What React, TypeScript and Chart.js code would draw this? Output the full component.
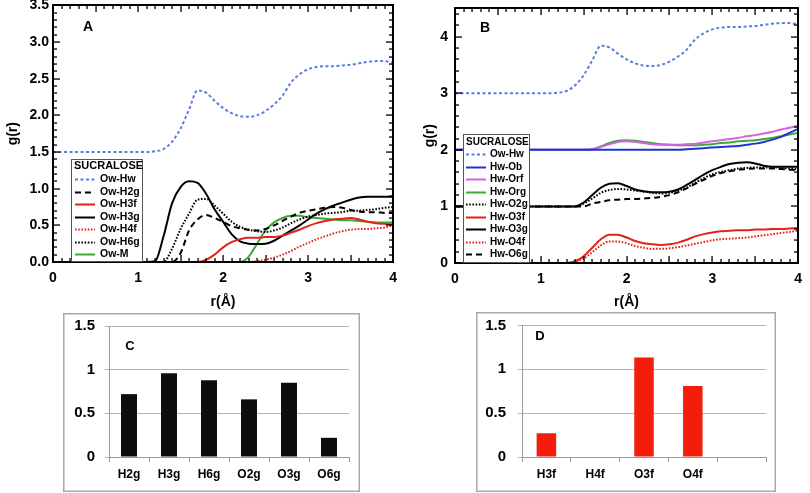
import { useEffect, useRef } from "react";
import { Chart, registerables } from "chart.js";
Chart.register(...registerables);

// r grid (Å)
const R = [0, 0.5, 1.0, 1.1, 1.2, 1.3, 1.4, 1.5, 1.6, 1.7, 1.8, 1.9, 2.0, 2.1, 2.2, 2.3, 2.4, 2.5, 2.6, 2.7, 2.8, 2.9, 3.0, 3.1, 3.2, 3.3, 3.4, 3.5, 3.6, 3.7, 3.8, 3.9, 4.0];

// Panel A (Ow-Hw shown shifted by OFFSET_A_OWHW)
const owHw = [0, 0, 0, 0, 0.01, 0.04, 0.14, 0.32, 0.58, 0.84, 0.81, 0.7, 0.6, 0.53, 0.49, 0.48, 0.5, 0.56, 0.65, 0.77, 0.95, 1.06, 1.13, 1.16, 1.17, 1.17, 1.18, 1.19, 1.21, 1.23, 1.24, 1.24, 1.22];
const owH2g = [0, 0, 0, 0, 0, 0, 0, 0.12, 0.43, 0.58, 0.64, 0.6, 0.55, 0.49, 0.46, 0.44, 0.43, 0.45, 0.5, 0.56, 0.62, 0.67, 0.7, 0.72, 0.74, 0.75, 0.74, 0.71, 0.69, 0.68, 0.68, 0.67, 0.67];
const owH3f = [0, 0, 0, 0, 0, 0, 0, 0, 0, 0, 0.03, 0.1, 0.2, 0.27, 0.31, 0.33, 0.33, 0.34, 0.34, 0.36, 0.4, 0.44, 0.49, 0.53, 0.56, 0.58, 0.59, 0.6, 0.58, 0.55, 0.53, 0.52, 0.51];
const owH3g = [0, 0, 0, 0, 0.01, 0.35, 0.8, 1.02, 1.1, 1.08, 0.93, 0.72, 0.55, 0.38, 0.28, 0.25, 0.245, 0.25, 0.29, 0.36, 0.43, 0.5, 0.58, 0.66, 0.72, 0.77, 0.81, 0.85, 0.88, 0.89, 0.89, 0.89, 0.89];
const owH4f = [0, 0, 0, 0, 0, 0, 0, 0, 0, 0, 0, 0, 0, 0, 0, 0, 0.01, 0.03, 0.06, 0.1, 0.15, 0.21, 0.26, 0.31, 0.35, 0.39, 0.42, 0.44, 0.45, 0.45, 0.46, 0.47, 0.5];
const owH6g = [0, 0, 0, 0, 0, 0, 0.18, 0.45, 0.66, 0.85, 0.86, 0.77, 0.66, 0.55, 0.48, 0.44, 0.42, 0.41, 0.43, 0.47, 0.53, 0.58, 0.62, 0.64, 0.66, 0.67, 0.68, 0.7, 0.7, 0.71, 0.72, 0.74, 0.75];
const owM = [0, 0, 0, 0, 0, 0, 0, 0, 0, 0, 0, 0, 0, 0, 0, 0.07, 0.25, 0.43, 0.54, 0.6, 0.63, 0.63, 0.61, 0.6, 0.59, 0.58, 0.57, 0.57, 0.56, 0.55, 0.54, 0.54, 0.54];

// Panel B (shifted groups)
const hwOb = [0, 0, 0, 0, 0, 0, 0, 0, 0, 0, 0, 0, 0, 0, 0, 0, 0, 0, 0, 0.01, 0.02, 0.03, 0.04, 0.05, 0.06, 0.07, 0.09, 0.11, 0.14, 0.18, 0.23, 0.3, 0.37];
const hwOrf = [0, 0, 0, 0, 0, 0, 0, 0, 0.01, 0.05, 0.1, 0.14, 0.15, 0.14, 0.12, 0.1, 0.09, 0.09, 0.09, 0.1, 0.11, 0.13, 0.15, 0.17, 0.19, 0.21, 0.24, 0.26, 0.29, 0.32, 0.36, 0.39, 0.43];
const hwOrg = [0, 0, 0, 0, 0, 0, 0, 0, 0.01, 0.06, 0.12, 0.16, 0.17, 0.16, 0.14, 0.12, 0.1, 0.09, 0.08, 0.08, 0.08, 0.09, 0.1, 0.12, 0.13, 0.15, 0.16, 0.17, 0.19, 0.21, 0.24, 0.27, 0.3];
const hwO2g = [0, 0, 0, 0, 0, 0, 0, 0.05, 0.14, 0.24, 0.29, 0.31, 0.3, 0.28, 0.26, 0.24, 0.23, 0.24, 0.28, 0.33, 0.42, 0.5, 0.57, 0.61, 0.64, 0.67, 0.68, 0.69, 0.69, 0.69, 0.68, 0.67, 0.66];
const hwO3f = [0, 0, 0, 0, 0, 0, 0.03, 0.12, 0.27, 0.42, 0.5, 0.5, 0.45, 0.39, 0.35, 0.33, 0.32, 0.33, 0.36, 0.41, 0.47, 0.51, 0.54, 0.56, 0.57, 0.58, 0.58, 0.59, 0.59, 0.6, 0.6, 0.61, 0.62];
const hwO3g = [0, 0, 0, 0, 0, 0, 0, 0.07, 0.2, 0.33, 0.4, 0.41, 0.36, 0.3, 0.27, 0.25, 0.25, 0.26, 0.3, 0.38, 0.47, 0.56, 0.64, 0.7, 0.75, 0.77, 0.78, 0.76, 0.72, 0.7, 0.7, 0.7, 0.7];
const hwO4f = [0, 0, 0, 0, 0, 0, 0.02, 0.08, 0.19, 0.31, 0.38, 0.38, 0.35, 0.3, 0.27, 0.25, 0.25, 0.26, 0.28, 0.31, 0.34, 0.37, 0.4, 0.42, 0.43, 0.44, 0.45, 0.47, 0.49, 0.51, 0.53, 0.55, 0.57];
const hwO6g = [0, 0, 0, 0, 0, 0, 0, 0, 0.05, 0.08, 0.11, 0.12, 0.13, 0.13, 0.14, 0.15, 0.17, 0.2, 0.25, 0.32, 0.4, 0.47, 0.54, 0.59, 0.62, 0.65, 0.66, 0.67, 0.67, 0.67, 0.66, 0.65, 0.64];

const OFFSET_A_OWHW = 1.5;
const OFFSET_B_OWHW = 3;
const OFFSET_B_OR = 2;
const OFFSET_B_OG = 1;

// Frame tick values (ticks inside the plot frame)
const xTickVals = [0, 0.1, 0.2, 0.3, 0.4, 0.5, 0.6, 0.7, 0.8, 0.9, 1, 1.1, 1.2, 1.3, 1.4, 1.5, 1.6, 1.7, 1.8, 1.9, 2, 2.1, 2.2, 2.3, 2.4, 2.5, 2.6, 2.7, 2.8, 2.9, 3, 3.1, 3.2, 3.3, 3.4, 3.5, 3.6, 3.7, 3.8, 3.9, 4];
const yTickValsA = [0, 0.1, 0.2, 0.3, 0.4, 0.5, 0.6, 0.7, 0.8, 0.9, 1, 1.1, 1.2, 1.3, 1.4, 1.5, 1.6, 1.7, 1.8, 1.9, 2, 2.1, 2.2, 2.3, 2.4, 2.5, 2.6, 2.7, 2.8, 2.9, 3, 3.1, 3.2, 3.3, 3.4, 3.5];
const yTickValsB = [0, 0.2, 0.4, 0.6, 0.8, 1, 1.2, 1.4, 1.6, 1.8, 2, 2.2, 2.4, 2.6, 2.8, 3, 3.2, 3.4, 3.6, 3.8, 4, 4.2, 4.4];

// Panel C
const catsC = ["H2g", "H3g", "H6g", "O2g", "O3g", "O6g"];
const valsC = [0.72, 0.96, 0.88, 0.66, 0.85, 0.22];
// Panel D
const catsD = ["H3f", "H4f", "O3f", "O4f", ""];
const valsD = [0.27, 0, 1.135, 0.81, null];

const FONT = "'Liberation Sans', Arial, Helvetica, sans-serif";
const BLUE_DOT = "#5a7de0";
const RED = "#e6201b";
const GREEN = "#3aa936";
const BLUE = "#1f35d0";
const MAGENTA = "#d264e2";

const pts = (vals: number[], off = 0) => R.map((r, i) => ({ x: r, y: vals[i] + off }));

const line = (label: string, data: any, color: string, dash: number[] = []) => ({
  label,
  data,
  borderColor: color,
  backgroundColor: color,
  borderWidth: 2,
  borderDash: dash,
  pointRadius: 0,
  cubicInterpolationMode: "monotone",
  fill: false,
  clip: false,
});

const DOT = [1.6, 1.6];
const DASH = [6, 4];
const BDOT = [3, 2.5];

function isMajor(v: number, m: number) {
  return Math.abs(v / m - Math.round(v / m)) < 1e-6;
}

function drawFrame(chart: any, o: any) {
  const ctx = chart.ctx;
  const a = chart.chartArea;
  const xs = chart.scales.x;
  const ys = chart.scales.y;
  const L0 = Math.round(a.left), R0 = Math.round(a.right), T0 = Math.round(a.top), B0 = Math.round(a.bottom);
  ctx.save();
  ctx.setLineDash([]);
  ctx.globalAlpha = 1;
  ctx.fillStyle = "#000";
  for (const v of o.xTicks) {
    const px = Math.round(xs.getPixelForValue(v));
    const len = isMajor(v, o.xMajor) ? 7 : 4;
    ctx.fillRect(px - 0.6, B0 - len, 1.3, len);
    ctx.fillRect(px - 0.6, T0, 1.3, len);
  }
  for (const v of o.yTicks) {
    const py = Math.round(ys.getPixelForValue(v));
    const len = isMajor(v, o.yMajor) ? 7 : 4;
    ctx.fillRect(L0, py - 0.6, len, 1.3);
    ctx.fillRect(R0 - len, py - 0.6, len, 1.3);
  }
  ctx.fillRect(L0 - 1, T0 - 1, R0 - L0 + 2, 2);
  ctx.fillRect(L0 - 1, B0 - 1, R0 - L0 + 2, 2);
  ctx.fillRect(L0 - 1, T0 - 1, 2, B0 - T0 + 2);
  ctx.fillRect(R0 - 1, T0 - 1, 2, B0 - T0 + 2);
  ctx.restore();
}

function drawLegend(chart: any, o: any) {
  const ctx = chart.ctx;
  const a = chart.chartArea;
  const L = o.legend;
  ctx.save();
  ctx.fillStyle = "#000";
  ctx.font = `bold ${o.letterSize}px ${FONT}`;
  ctx.textAlign = "center";
  ctx.textBaseline = "middle";
  ctx.fillText(o.letter, a.left + o.letterDx, a.top + o.letterDy);
  const bx = Math.round(a.left + L.dx), by = Math.round(a.bottom - L.height), bw = L.width, bh = L.height;
  ctx.fillStyle = "#fff";
  ctx.fillRect(bx, by, bw, bh);
  ctx.strokeStyle = "#555";
  ctx.lineWidth = 1;
  ctx.strokeRect(bx + 0.5, by + 0.5, bw - 1, bh - 1);
  ctx.fillStyle = "#000";
  ctx.textAlign = "left";
  ctx.font = `bold ${L.titleSize}px ${FONT}`;
  ctx.fillText("SUCRALOSE", bx + 3, by + L.titleY);
  ctx.font = `bold ${L.textSize}px ${FONT}`;
  chart.data.datasets.forEach((ds: any, i: number) => {
    const y = Math.round(by + L.firstY + i * L.rowH) + 0.5;
    ctx.save();
    ctx.strokeStyle = ds.borderColor;
    ctx.lineWidth = 2;
    ctx.setLineDash(ds.borderDash || []);
    ctx.beginPath();
    ctx.moveTo(bx + L.s0, y);
    ctx.lineTo(bx + L.s1, y);
    ctx.stroke();
    ctx.restore();
    ctx.fillText(ds.label, bx + L.tx, y);
  });
  ctx.restore();
}

function makeGPlugin(o: any) {
  return {
    id: "gframe",
    afterDraw(chart: any) {
      drawFrame(chart, o);
      drawLegend(chart, o);
    },
  };
}

function makeBPlugin(o: any) {
  return {
    id: "bframe",
    afterDraw(chart: any) {
      const { ctx, chartArea: a, width, height } = chart;
      ctx.save();
      ctx.setLineDash([]);
      ctx.strokeStyle = "#a8a8a8";
      ctx.lineWidth = 1.5;
      ctx.strokeRect(0.75, 0.75, width - 1.5, height - 1.5);
      ctx.fillStyle = "#000";
      ctx.font = `bold ${o.letterSize}px ${FONT}`;
      ctx.textAlign = "center";
      ctx.textBaseline = "middle";
      ctx.fillText(o.letter, a.left + o.letterDx, a.top + o.letterDy);
      ctx.restore();
    },
  };
}

function lineConfig(datasets: any[], o: any) {
  return {
    type: "line",
    data: { datasets },
    options: {
      responsive: false,
      animation: false,
      events: [],
      layout: { padding: { top: o.padTop, right: o.padRight, left: 0, bottom: 0 } },
      plugins: {
        legend: { display: false },
        tooltip: { enabled: false },
      },
      scales: {
        x: {
          type: "linear",
          min: 0,
          max: 4,
          grid: { display: false, drawTicks: false },
          border: { display: false },
          ticks: { stepSize: 1, color: "#000", padding: o.xPad, font: { family: FONT, size: 14, weight: "bold" }, maxRotation: 0 },
          title: { display: true, text: "r(Å)", color: "#000", font: { family: FONT, size: 14, weight: "bold" }, padding: { top: 0, bottom: o.xTitlePad } },
          afterFit: (s: any) => { s.height = o.xH; },
        },
        y: {
          min: 0,
          max: o.yMax,
          grid: { display: false, drawTicks: false },
          border: { display: false },
          ticks: { stepSize: o.yStep, includeBounds: false, color: "#000", padding: o.yPad, font: { family: FONT, size: 14, weight: "bold", lineHeight: 0.2 }, callback: o.yCb },
          title: { display: true, text: "g(r)", color: "#000", font: { family: FONT, size: 14, weight: "bold" }, padding: { top: o.yTitlePad, bottom: 0 } },
          afterFit: (s: any) => { s.width = o.yW; },
        },
      },
    },
    plugins: [makeGPlugin(o.frame)],
  };
}

function barConfig(cats: string[], vals: any[], color: string, o: any) {
  return {
    type: "bar",
    data: { labels: cats, datasets: [{ data: vals, backgroundColor: color, barPercentage: 0.4, categoryPercentage: 1 }] },
    options: {
      responsive: false,
      animation: false,
      events: [],
      layout: { padding: { top: o.padTop, right: o.padRight, left: 0, bottom: 0 } },
      plugins: { legend: { display: false }, tooltip: { enabled: false } },
      scales: {
        x: {
          grid: { display: true, drawOnChartArea: false, drawTicks: true, tickLength: 5, color: "#9a9a9a", offset: true },
          border: { display: true, color: "#9a9a9a", width: 1 },
          ticks: { color: "#000", padding: 5, font: { family: FONT, size: 12, weight: "bold" }, maxRotation: 0 },
          afterFit: (s: any) => { s.height = o.xH; },
        },
        y: {
          min: 0,
          max: 1.5,
          grid: { color: "#b4b4b4", drawTicks: true, tickLength: 4 },
          border: { display: true, color: "#9a9a9a" },
          ticks: { stepSize: 0.5, color: "#000", padding: o.yPad, font: { family: FONT, size: 15, weight: "bold", lineHeight: 0.2 }, callback: (v: any) => String(v) },
          afterFit: (s: any) => { s.width = o.yW; },
        },
      },
    },
    plugins: [makeBPlugin(o.frame)],
  };
}

function ChartCanvas({ config, left, top, width, height }: any) {
  const ref = useRef<HTMLCanvasElement>(null);
  useEffect(() => {
    const c = new Chart(ref.current as any, config());
    return () => c.destroy();
  }, []);
  return (
    <canvas ref={ref} width={width} height={height} style={{ position: "absolute", left, top, width, height }} />
  );
}

const cfgA = () =>
  lineConfig(
    [
      line("Ow-Hw", pts(owHw, OFFSET_A_OWHW), BLUE_DOT, BDOT),
      line("Ow-H2g", pts(owH2g), "#000", DASH),
      line("Ow-H3f", pts(owH3f), RED),
      line("Ow-H3g", pts(owH3g), "#000"),
      line("Ow-H4f", pts(owH4f), RED, DOT),
      line("Ow-H6g", pts(owH6g), "#000", DOT),
      line("Ow-M", pts(owM), GREEN),
    ],
    {
      padTop: 5, padRight: 9, xH: 58, yW: 53, yMax: 3.5, yStep: 0.5, xPad: 8, yPad: 4, xTitlePad: 9, yTitlePad: 5,
      yCb: (v: any) => Number(v).toFixed(1),
      frame: {
        xTicks: xTickVals, yTicks: yTickValsA, xMajor: 0.5, yMajor: 0.5,
        letter: "A", letterSize: 14, letterDx: 35, letterDy: 22,
        legend: { dx: 18, width: 72, height: 103, titleSize: 11, textSize: 10.5, titleY: 7, firstY: 20, rowH: 12.5, s0: 4, s1: 24, tx: 29 },
      },
    }
  );

const cfgB = () =>
  lineConfig(
    [
      line("Ow-Hw", pts(owHw, OFFSET_B_OWHW), BLUE_DOT, BDOT),
      line("Hw-Ob", pts(hwOb, OFFSET_B_OR), BLUE),
      line("Hw-Orf", pts(hwOrf, OFFSET_B_OR), MAGENTA),
      line("Hw-Org", pts(hwOrg, OFFSET_B_OR), GREEN),
      line("Hw-O2g", pts(hwO2g, OFFSET_B_OG), "#000", DOT),
      line("Hw-O3f", pts(hwO3f), RED),
      line("Hw-O3g", pts(hwO3g, OFFSET_B_OG), "#000"),
      line("Hw-O4f", pts(hwO4f), RED, DOT),
      line("Hw-O6g", pts(hwO6g, OFFSET_B_OG), "#000", DASH),
    ],
    {
      padTop: 5, padRight: 5, xH: 57, yW: 50, yMax: 4.5, yStep: 1, xPad: 8, yPad: 7, xTitlePad: 9, yTitlePad: 17,
      yCb: (v: any) => String(v),
      frame: {
        xTicks: xTickVals, yTicks: yTickValsB, xMajor: 0.5, yMajor: 1,
        letter: "B", letterSize: 14, letterDx: 30, letterDy: 20,
        legend: { dx: 8, width: 67, height: 129, titleSize: 10, textSize: 10, titleY: 8, firstY: 20, rowH: 12.5, s0: 3, s1: 23, tx: 27 },
      },
    }
  );

const cfgC = () =>
  barConfig(catsC, valsC, "#0d0d0d", {
    padTop: 13, padRight: 11, xH: 35, yW: 46, yPad: 10,
    frame: { letter: "C", letterSize: 13, letterDx: 21, letterDy: 20 },
  });

const cfgD = () =>
  barConfig(catsD, valsD, "#f41d0c", {
    padTop: 12, padRight: 10, xH: 35, yW: 46, yPad: 12,
    frame: { letter: "D", letterSize: 13, letterDx: 18, letterDy: 11 },
  });

export default function App() {
  return (
    <div style={{ position: "absolute", left: 0, top: 0, width: 810, height: 493, background: "#fff", overflow: "hidden" }}>
      <ChartCanvas config={cfgA} left={0} top={0} width={405} height={320} />
      <ChartCanvas config={cfgB} left={405} top={0} width={405} height={320} />
      <ChartCanvas config={cfgC} left={63} top={313} width={297} height={179} />
      <ChartCanvas config={cfgD} left={476} top={312} width={300} height={180} />
    </div>
  );
}
